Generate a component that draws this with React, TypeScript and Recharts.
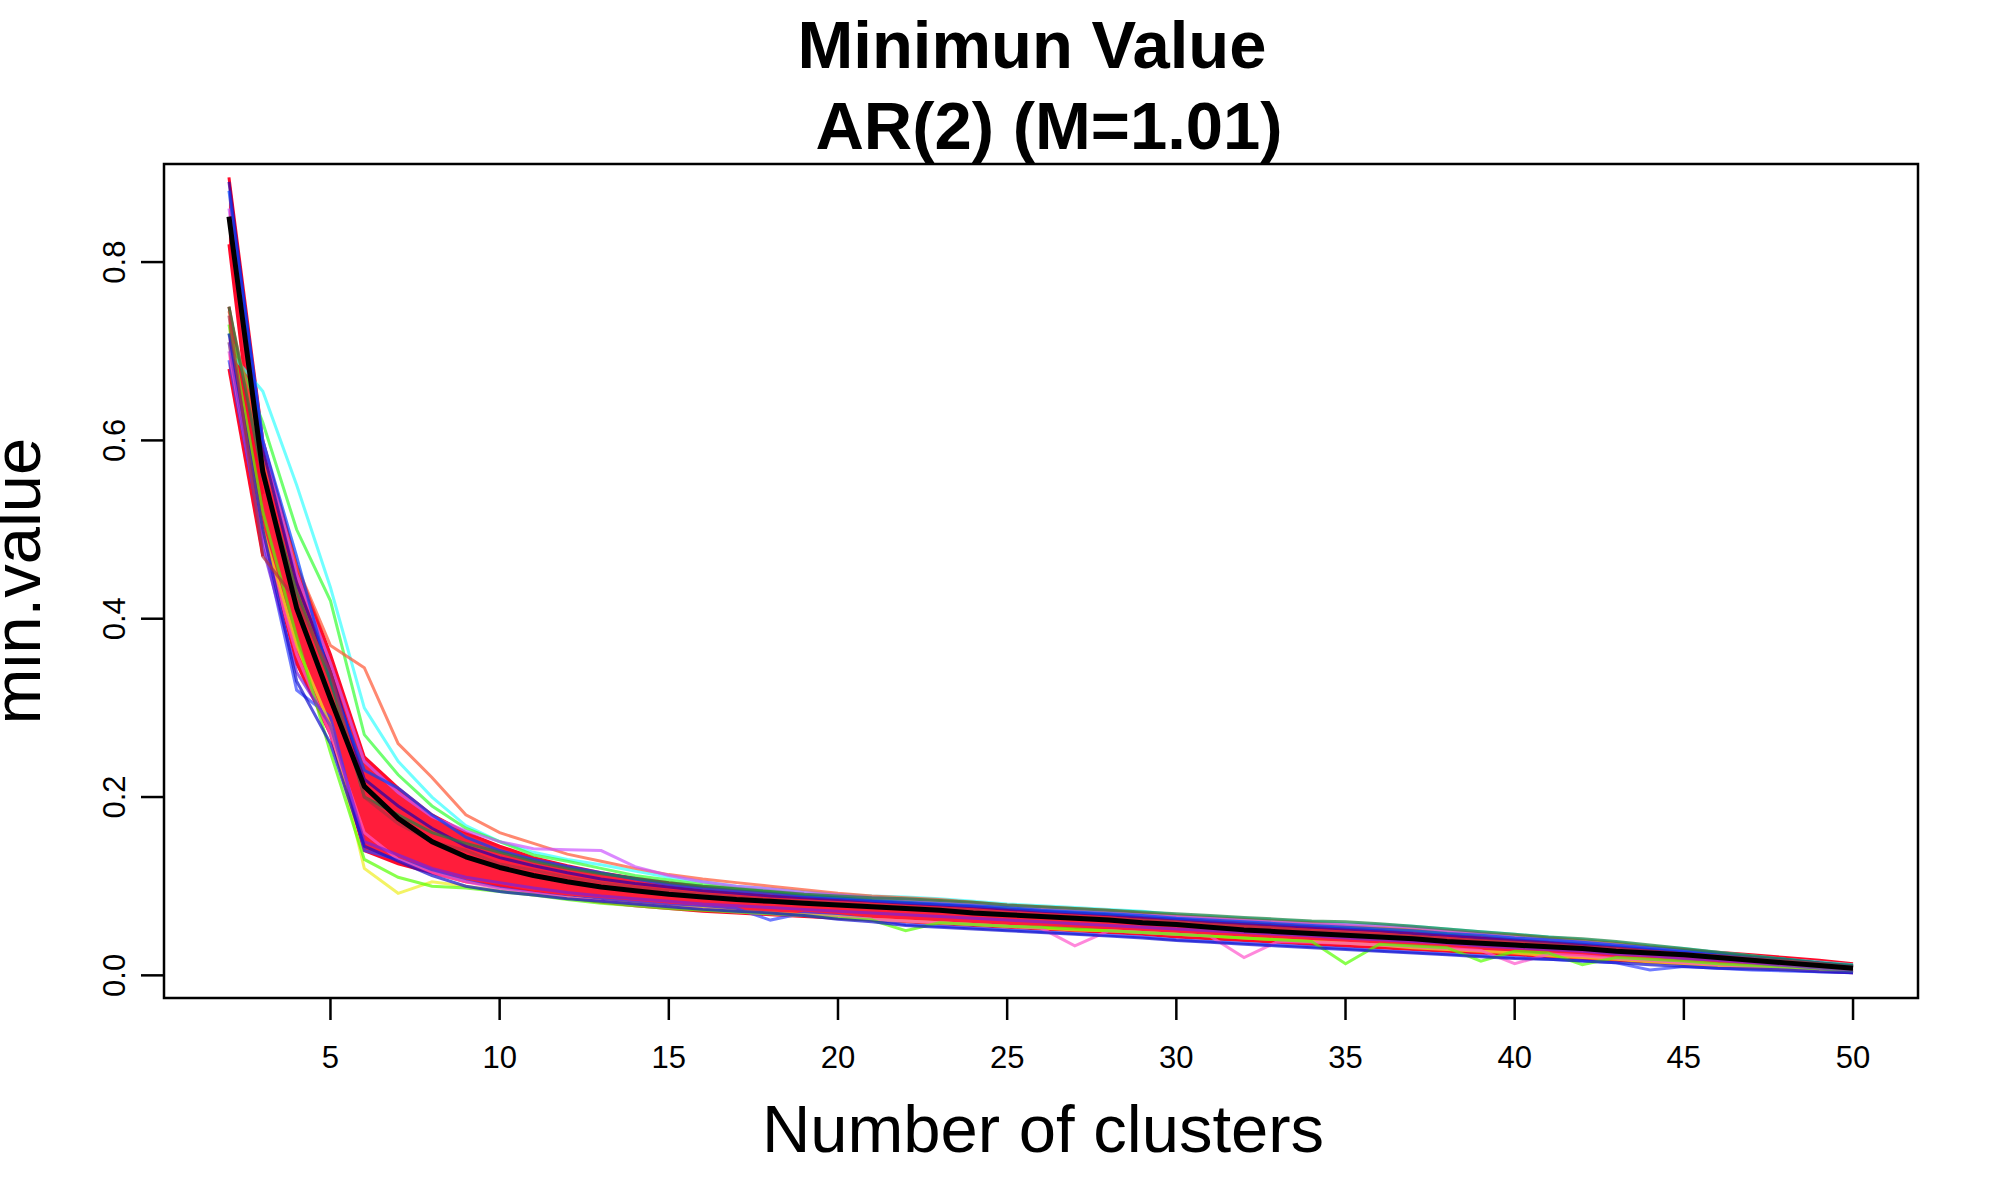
import React from 'react';
import {
  Area,
  ComposedChart,
  Line,
  ReferenceArea,
  XAxis,
  YAxis,
} from 'recharts';

const FONT = '"Liberation Sans", Arial, Helvetica, sans-serif';

// number of clusters, 2..50
const clusters = [
  2, 3, 4, 5, 6, 7, 8, 9, 10, 11,
  12, 13, 14, 15, 16, 17, 18, 19, 20, 21,
  22, 23, 24, 25, 26, 27, 28, 29, 30, 31,
  32, 33, 34, 35, 36, 37, 38, 39, 40, 41,
  42, 43, 44, 45, 46, 47, 48, 49, 50,
];

const xTicks = [5, 10, 15, 20, 25, 30, 35, 40, 45, 50];
const yTicks = [0, 0.2, 0.4, 0.6, 0.8];

// black summary curve
const meanValue = [
  0.851, 0.565, 0.412, 0.31, 0.212, 0.176, 0.15, 0.133, 0.121, 0.112,
  0.105, 0.099, 0.095, 0.091, 0.088, 0.085, 0.083, 0.081, 0.079, 0.077,
  0.075, 0.073, 0.07, 0.068, 0.066, 0.064, 0.062, 0.059, 0.057, 0.054,
  0.051, 0.049, 0.047, 0.045, 0.043, 0.041, 0.038, 0.036, 0.034, 0.032,
  0.03, 0.027, 0.025, 0.023, 0.02, 0.017, 0.014, 0.011, 0.008,
];

// dense red core of the simulations
const bandLow = [
  0.82, 0.5, 0.35, 0.27, 0.14, 0.125, 0.115, 0.105, 0.1, 0.093,
  0.087, 0.082, 0.078, 0.075, 0.072, 0.07, 0.068, 0.066, 0.064, 0.062,
  0.06, 0.058, 0.056, 0.054, 0.052, 0.05, 0.048, 0.046, 0.043, 0.041,
  0.039, 0.037, 0.035, 0.033, 0.031, 0.029, 0.027, 0.025, 0.023, 0.021,
  0.019, 0.017, 0.015, 0.013, 0.011, 0.009, 0.007, 0.005, 0.003,
];
const bandHigh = [
  0.895, 0.6, 0.46, 0.36, 0.245, 0.21, 0.18, 0.16, 0.145, 0.132,
  0.123, 0.115, 0.109, 0.104, 0.1, 0.097, 0.094, 0.091, 0.089, 0.087,
  0.085, 0.083, 0.081, 0.078, 0.076, 0.074, 0.072, 0.069, 0.067, 0.064,
  0.061, 0.059, 0.057, 0.055, 0.052, 0.05, 0.047, 0.044, 0.042, 0.04,
  0.037, 0.034, 0.031, 0.029, 0.026, 0.023, 0.02, 0.017, 0.013,
];
// second group of runs that starts lower at k = 2
const lowerGroupLow = [0.68, 0.47];
const lowerGroupHigh = [0.75, 0.54];

// a handful of individual runs from the rainbow fringe
const runs: { color: string; values: number[] }[] = [
  {
    color: '#33FFFF',
    values: [
      0.7, 0.655, 0.55, 0.435, 0.3, 0.24, 0.2, 0.168, 0.15, 0.138,
      0.13, 0.124, 0.117, 0.11, 0.105, 0.1, 0.097, 0.094, 0.091, 0.089,
      0.088, 0.086, 0.083, 0.08, 0.078, 0.076, 0.074, 0.072, 0.068, 0.066,
      0.064, 0.062, 0.06, 0.058, 0.057, 0.055, 0.052, 0.049, 0.046, 0.043,
      0.04, 0.037, 0.033, 0.03, 0.026, 0.022, 0.018, 0.015, 0.012,
    ],
  },
  {
    color: '#33FF33',
    values: [
      0.72, 0.62, 0.5, 0.42, 0.27, 0.225, 0.19, 0.165, 0.15, 0.135,
      0.128, 0.12, 0.112, 0.107, 0.102, 0.098, 0.095, 0.091, 0.088, 0.086,
      0.084, 0.082, 0.08, 0.077, 0.075, 0.073, 0.07, 0.068, 0.066, 0.064,
      0.062, 0.06, 0.058, 0.055, 0.053, 0.051, 0.048, 0.046, 0.043, 0.04,
      0.037, 0.034, 0.031, 0.028, 0.025, 0.021, 0.018, 0.014, 0.011,
    ],
  },
  {
    color: '#FF5533',
    values: [
      0.745, 0.58, 0.46, 0.37, 0.345, 0.26, 0.222, 0.18, 0.16, 0.148,
      0.136, 0.128, 0.12, 0.113, 0.108, 0.104, 0.1, 0.096, 0.092, 0.089,
      0.087, 0.085, 0.082, 0.079, 0.077, 0.075, 0.073, 0.07, 0.067, 0.065,
      0.063, 0.061, 0.059, 0.056, 0.054, 0.052, 0.05, 0.047, 0.045, 0.042,
      0.039, 0.036, 0.032, 0.029, 0.025, 0.021, 0.017, 0.013, 0.01,
    ],
  },
  {
    color: '#CC55FF',
    values: [
      0.86, 0.6, 0.45, 0.35, 0.24, 0.205, 0.178, 0.162, 0.15, 0.142,
      0.141, 0.14, 0.122, 0.112, 0.105, 0.1, 0.097, 0.093, 0.09, 0.087,
      0.085, 0.082, 0.08, 0.078, 0.075, 0.073, 0.071, 0.068, 0.066, 0.064,
      0.062, 0.06, 0.058, 0.057, 0.056, 0.054, 0.05, 0.047, 0.043, 0.04,
      0.037, 0.034, 0.03, 0.027, 0.024, 0.02, 0.017, 0.013, 0.01,
    ],
  },
  {
    color: '#3344FF',
    values: [
      0.69, 0.49, 0.32, 0.29, 0.14, 0.13, 0.118, 0.106, 0.098, 0.092,
      0.088, 0.085, 0.082, 0.079, 0.077, 0.075, 0.062, 0.07, 0.067, 0.063,
      0.057, 0.055, 0.053, 0.051, 0.049, 0.047, 0.045, 0.043, 0.04, 0.038,
      0.036, 0.034, 0.032, 0.03, 0.028, 0.026, 0.024, 0.022, 0.02, 0.018,
      0.016, 0.014, 0.006, 0.01, 0.008, 0.006, 0.005, 0.004, 0.003,
    ],
  },
  {
    color: '#EEEE22',
    values: [
      0.71, 0.5, 0.37, 0.28, 0.12, 0.092, 0.105, 0.1, 0.095, 0.09,
      0.087, 0.083, 0.08, 0.077, 0.075, 0.072, 0.07, 0.068, 0.066, 0.063,
      0.061, 0.059, 0.057, 0.055, 0.053, 0.051, 0.05, 0.048, 0.046, 0.044,
      0.042, 0.04, 0.038, 0.036, 0.034, 0.031, 0.029, 0.027, 0.025, 0.022,
      0.02, 0.018, 0.015, 0.013, 0.011, 0.009, 0.007, 0.006, 0.005,
    ],
  },
  {
    color: '#FF55CC',
    values: [
      0.7, 0.49, 0.36, 0.27, 0.16, 0.13, 0.115, 0.105, 0.097, 0.092,
      0.087, 0.083, 0.079, 0.076, 0.074, 0.071, 0.069, 0.067, 0.065, 0.063,
      0.061, 0.059, 0.057, 0.055, 0.053, 0.033, 0.05, 0.048, 0.046, 0.044,
      0.02, 0.038, 0.037, 0.036, 0.034, 0.032, 0.03, 0.028, 0.013, 0.024,
      0.022, 0.019, 0.017, 0.014, 0.012, 0.01, 0.008, 0.006, 0.005,
    ],
  },
  {
    color: '#55FF00',
    values: [
      0.73, 0.52, 0.38, 0.25, 0.13, 0.11, 0.1, 0.098, 0.094, 0.09,
      0.085, 0.081, 0.078, 0.075, 0.073, 0.071, 0.069, 0.067, 0.064, 0.062,
      0.05, 0.059, 0.057, 0.055, 0.054, 0.052, 0.05, 0.048, 0.046, 0.044,
      0.042, 0.04, 0.038, 0.013, 0.035, 0.033, 0.031, 0.016, 0.027, 0.025,
      0.012, 0.02, 0.018, 0.016, 0.013, 0.011, 0.009, 0.007, 0.005,
    ],
  },
  {
    color: '#2200AA',
    values: [
      0.89, 0.59, 0.44, 0.34, 0.22, 0.19, 0.165, 0.145, 0.132, 0.123,
      0.115, 0.108, 0.103, 0.099, 0.095, 0.092, 0.089, 0.087, 0.085, 0.083,
      0.081, 0.079, 0.077, 0.074, 0.072, 0.07, 0.068, 0.065, 0.063, 0.06,
      0.058, 0.056, 0.054, 0.052, 0.05, 0.047, 0.045, 0.042, 0.04, 0.037,
      0.035, 0.032, 0.029, 0.026, 0.023, 0.02, 0.017, 0.014, 0.01,
    ],
  },
  {
    color: '#7722DD',
    values: [
      0.71, 0.48, 0.34, 0.28, 0.15, 0.135, 0.12, 0.11, 0.104, 0.098,
      0.093, 0.089, 0.086, 0.083, 0.08, 0.078, 0.076, 0.074, 0.072, 0.07,
      0.068, 0.066, 0.064, 0.062, 0.06, 0.058, 0.056, 0.054, 0.052, 0.05,
      0.048, 0.046, 0.044, 0.042, 0.04, 0.038, 0.036, 0.033, 0.031, 0.029,
      0.027, 0.024, 0.022, 0.019, 0.017, 0.014, 0.011, 0.008, 0.006,
    ],
  },
  {
    color: '#0044FF',
    values: [
      0.88, 0.6, 0.47, 0.33, 0.23, 0.21, 0.18, 0.155, 0.14, 0.13,
      0.122, 0.115, 0.108, 0.102, 0.098, 0.095, 0.092, 0.089, 0.087, 0.084,
      0.082, 0.08, 0.078, 0.076, 0.073, 0.071, 0.069, 0.067, 0.064, 0.062,
      0.06, 0.058, 0.056, 0.054, 0.052, 0.05, 0.047, 0.045, 0.042, 0.04,
      0.037, 0.034, 0.031, 0.028, 0.025, 0.021, 0.018, 0.014, 0.011,
    ],
  },
  {
    color: '#208040',
    values: [
      0.75, 0.56, 0.43, 0.33, 0.2, 0.18, 0.16, 0.148, 0.138, 0.128,
      0.12, 0.114, 0.109, 0.104, 0.1, 0.097, 0.094, 0.091, 0.089, 0.087,
      0.086, 0.084, 0.082, 0.079, 0.077, 0.075, 0.073, 0.071, 0.069, 0.067,
      0.065, 0.063, 0.061, 0.06, 0.058, 0.055, 0.052, 0.049, 0.046, 0.043,
      0.041, 0.038, 0.034, 0.03, 0.026, 0.022, 0.018, 0.014, 0.011,
    ],
  },
  {
    color: '#1010CC',
    values: [
      0.72, 0.5, 0.33, 0.26, 0.145, 0.128, 0.112, 0.1, 0.094, 0.09,
      0.086, 0.083, 0.08, 0.077, 0.074, 0.072, 0.07, 0.067, 0.063, 0.06,
      0.056, 0.054, 0.052, 0.05, 0.048, 0.046, 0.044, 0.042, 0.039, 0.037,
      0.035, 0.033, 0.031, 0.029, 0.027, 0.025, 0.023, 0.021, 0.019, 0.018,
      0.016, 0.014, 0.012, 0.01, 0.008, 0.007, 0.006, 0.004, 0.003,
    ],
  },
  {
    color: '#B03040',
    values: [
      0.74, 0.47, 0.42, 0.34, 0.2, 0.17, 0.15, 0.14, 0.125, 0.118,
      0.11, 0.104, 0.099, 0.095, 0.091, 0.088, 0.085, 0.083, 0.081, 0.079,
      0.077, 0.075, 0.073, 0.07, 0.068, 0.066, 0.064, 0.062, 0.06, 0.057,
      0.055, 0.053, 0.05, 0.048, 0.046, 0.044, 0.041, 0.039, 0.037, 0.035,
      0.032, 0.03, 0.027, 0.024, 0.022, 0.019, 0.016, 0.013, 0.009,
    ],
  },
];

const data = clusters.map((k, i) => {
  const row: Record<string, unknown> = {
    k,
    mean: meanValue[i],
    band: [bandLow[i], bandHigh[i]],
    lowerGroup: i < lowerGroupLow.length ? [lowerGroupLow[i], lowerGroupHigh[i]] : null,
  };
  runs.forEach((r, j) => {
    row[`run${j}`] = r.values[i];
  });
  return row;
});

function XTick({ x, y, payload }: any) {
  return (
    <text x={x} y={y + 46} textAnchor="middle" fontSize={31} fontFamily={FONT} fill="#000">
      {payload.value}
    </text>
  );
}

function YTick({ x, y, payload }: any) {
  const bx = x - 14;
  return (
    <text
      x={bx}
      y={y}
      transform={`rotate(-90 ${bx} ${y})`}
      textAnchor="middle"
      fontSize={31}
      fontFamily={FONT}
      fill="#000"
    >
      {Number(payload.value).toFixed(1)}
    </text>
  );
}

export default function App() {
  return (
    <div style={{ position: 'absolute', left: 0, top: 0, width: 2000, height: 1200, background: '#fff' }}>
      <ComposedChart
        width={2000}
        height={1200}
        data={data}
        margin={{ top: 164, right: 82, bottom: 0, left: 0 }}
      >
        <XAxis
          dataKey="k"
          type="number"
          domain={[0.08, 51.92]}
          ticks={xTicks}
          allowDataOverflow
          height={202}
          axisLine={false}
          tickSize={22}
          tickLine={{ stroke: '#000', strokeWidth: 2.5 }}
          tick={<XTick />}
        />
        <YAxis
          type="number"
          domain={[-0.0254, 0.91]}
          ticks={yTicks}
          allowDataOverflow
          width={164}
          axisLine={false}
          tickSize={23}
          tickLine={{ stroke: '#000', strokeWidth: 2.5 }}
          tick={<YTick />}
        />
        <Area
          dataKey="band"
          type="linear"
          stroke="#FF0A2A"
          strokeWidth={3}
          fill="#FF0A2A"
          fillOpacity={0.92}
          isAnimationActive={false}
        />
        <Area
          dataKey="lowerGroup"
          type="linear"
          stroke="#FF0A2A"
          strokeWidth={3}
          fill="#FF0A2A"
          fillOpacity={0.92}
          connectNulls={false}
          isAnimationActive={false}
        />
        {runs.map((r, j) => (
          <Line
            key={r.color}
            dataKey={`run${j}`}
            type="linear"
            stroke={r.color}
            strokeOpacity={0.7}
            strokeWidth={3}
            dot={false}
            isAnimationActive={false}
          />
        ))}
        <Line
          dataKey="mean"
          type="linear"
          stroke="#000"
          strokeWidth={5}
          strokeLinejoin="round"
          dot={false}
          isAnimationActive={false}
        />
        <ReferenceArea
          x1={0.08}
          x2={51.92}
          y1={-0.0254}
          y2={0.91}
          fill="none"
          stroke="#000"
          strokeWidth={2.5}
          fillOpacity={0}
          ifOverflow="visible"
        />
      </ComposedChart>

      <svg
        width={2000}
        height={1200}
        style={{ position: 'absolute', left: 0, top: 0, pointerEvents: 'none' }}
        fontFamily={FONT}
      >
        <text x={1032} y={68} textAnchor="middle" fontSize={67} fontWeight="bold">
          Minimun Value
        </text>
        <text x={1049} y={149} textAnchor="middle" fontSize={67} fontWeight="bold">
          AR(2) (M=1.01)
        </text>
        <text x={1043} y={1152} textAnchor="middle" fontSize={67}>
          Number of clusters
        </text>
        <text x={40} y={581} transform="rotate(-90 40 581)" textAnchor="middle" fontSize={67}>
          min.value
        </text>
      </svg>
    </div>
  );
}
